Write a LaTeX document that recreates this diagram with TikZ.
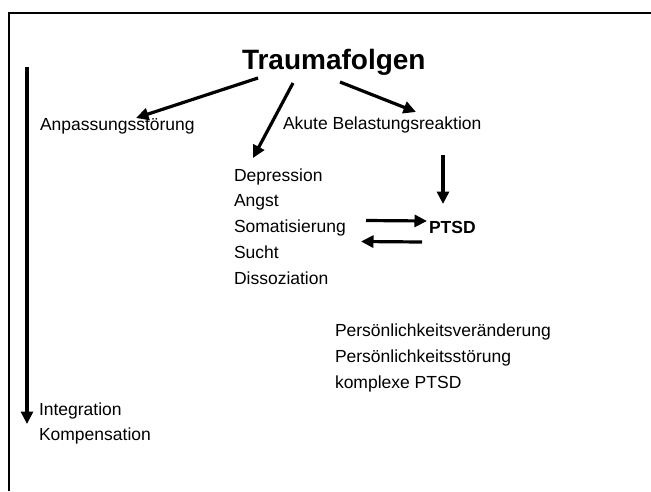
\documentclass[tikz,border=0pt]{standalone}
\usepackage{fontspec}
\setmainfont{Liberation Sans}
\usetikzlibrary{arrows.meta,calc,positioning}
\tikzstyle{pfeil}  =[-{Triangle[length=12.5pt,width=12pt]},
                    line width=3.2pt]
\tikzstyle{eintrag}=[inner sep=0pt, outer sep=0pt, anchor=base west,
                    text height=12.5pt, text depth=3.7pt,
                    font=\fontsize{17.5}{21}\selectfont]
\tikzstyle{rahmen} =[line width=2.5pt]

\begin{document}
\begin{tikzpicture}[x=1pt,y=-1pt]
    \useasboundingbox (0,0) rectangle (651,491);
    \draw [rahmen] (9,491) -- (9,13) -- (651,13);

    \draw (242,69) node (titel) [eintrag,text height=20pt,text depth=6pt,
        font=\bfseries\fontsize{28}{34}\selectfont] {Traumafolgen};
    \draw (40,130) node (anpassung) [eintrag] {Anpassungsstörung};
    \draw (283,129) node (akut) [eintrag] {Akute Belastungsreaktion};
    \draw (429,233) node (ptsd) [eintrag,font=\bfseries\fontsize{17.5}{21}\selectfont] {PTSD};

    \foreach \t [count=\i] in {Depression,Angst,Somatisierung,Sucht,Dissoziation}
        \draw (234,{181+25.75*(\i-1)}) node (d\i) [eintrag] {\t};
    \foreach \t [count=\i] in {Persönlichkeitsveränderung,Persönlichkeitsstörung,komplexe PTSD}
        \draw (335,{336+26*(\i-1)}) node (p\i) [eintrag] {\t};
    \draw (39,415) node (integr) [eintrag] {Integration};
    \draw (39,440) node (kompens) [eintrag] {Kompensation};
    \coordinate (zeit) at (27,67);

    % Pfeile vom Titel
    \draw [pfeil] ([shift={(16,9)}]titel.base west) -- ([shift={(96,-12)}]anpassung.base west);
    \draw [pfeil] ([shift={(51,14)}]titel.base west) -- ([shift={(19,-23)}]d1.base west);
    \draw [pfeil] ([shift={(98,13)}]titel.base west) -- ([shift={(133,-17)}]akut.base west);
    \draw [pfeil] ([shift={(160,26)}]akut.base west) -- ([shift={(14,-29)}]ptsd.base west);

    % hin und zurueck
    \draw [pfeil] ([shift={(132,-12)}]d3.base west) -- ([shift={(-2,-12)}]ptsd.base west);
    \draw [pfeil] ([shift={(-7,9)}]ptsd.base west) -- ([shift={(127,9)}]d3.base west);

    \draw [pfeil] (zeit) -- ([shift={(-12,9)}]integr.base west);
\end{tikzpicture}
\end{document}
